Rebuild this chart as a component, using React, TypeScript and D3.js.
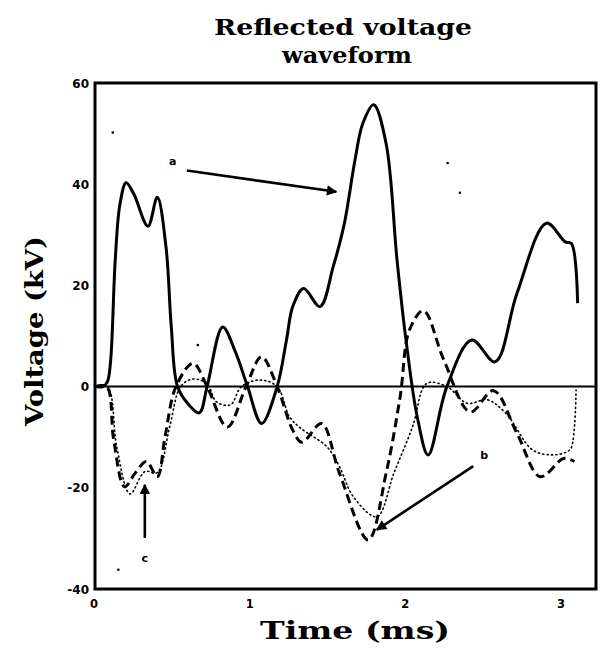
import React from "react";
import * as d3 from "d3";

// time (ms) / voltage (kV)
const solidT = [0, 0.05, 0.08, 0.1, 0.13, 0.16, 0.2, 0.25, 0.34, 0.4, 0.456, 0.49, 0.53, 0.6, 0.67, 0.72, 0.82, 0.9, 0.98, 1.07, 1.17, 1.23, 1.27, 1.34, 1.445, 1.53, 1.6, 1.67, 1.72, 1.79, 1.87, 1.94, 2.0, 2.07, 2.14, 2.26, 2.42, 2.57, 2.71, 2.9, 3.02, 3.06, 3.1];
const solidV = [0, 0, 1, 5, 25, 36, 40.3, 38, 31.7, 37.4, 27.6, 11.8, 0, -3.5, -5.2, 0, 11.8, 7, 0, -7.3, 0, 9.2, 15.8, 19.4, 15.8, 23.7, 32, 44.8, 52, 55.7, 48, 25, 8.6, -6, -13.5, 0, 9.2, 4.9, 18.4, 32.3, 28.6, 28.3, 16.5];

const dashT = [0, 0.075, 0.12, 0.19, 0.26, 0.33, 0.4, 0.45, 0.52, 0.63, 0.72, 0.85, 0.97, 1.07, 1.17, 1.27, 1.33, 1.455, 1.57, 1.755, 1.87, 1.96, 2.02, 2.11, 2.24, 2.41, 2.56, 2.71, 2.86, 3.01, 3.08];
const dashV = [0, 0, -10.5, -19.8, -17, -14.8, -17.8, -9.9, 0, 4.6, 0, -8.0, 0, 5.9, 0, -8.6, -11, -7.3, -17.1, -30.3, -17.1, -2, 11.2, 15.0, 5.3, -5.0, -0.8, -9.2, -17.8, -14.2, -14.8];

const dotT = [0, 0.08, 0.14, 0.225, 0.32, 0.4, 0.48, 0.55, 0.63, 0.72, 0.78, 0.87, 0.94, 1.06, 1.17, 1.25, 1.32, 1.49, 1.57, 1.66, 1.81, 1.92, 2.04, 2.13, 2.26, 2.39, 2.52, 2.64, 2.81, 2.94, 3.03, 3.06, 3.09];
const dotV = [0, 0, -12, -21.2, -16.8, -17, -7.9, 0, 1.5, 0.5, -3, -3.6, 0, 1.3, 0, -6, -8.2, -11.9, -15.8, -21.8, -25.7, -17.1, -7.9, 0.6, 0, -3.3, -2.6, -5.3, -12.5, -13.5, -12.9, -12, -0.7];

const yTicks = [-40, -20, 0, 20, 40, 60];
const xTicks = [0, 1, 2, 3];

// annotations: label, label pos, arrow start, arrow end (data units)
const notes = [
  { label: "a", lt: 0.5, lv: 44.6, t0: 0.59, v0: 42.7, t1: 1.55, v1: 38.5 },
  { label: "b", lt: 2.5, lv: -13.6, t0: 2.43, v0: -15.7, t1: 1.81, v1: -28.3 },
  { label: "c", lt: 0.32, lv: -33.8, t0: 0.32, v0: -29.9, t1: 0.32, v1: -19.4 },
];

// stray specks in the scan
const specks = [
  [0.114, 50.2], [0.66, 8.2], [2.265, 44.2], [2.344, 38.3], [0.15, -36.2],
];

const width = 605;
const height = 654;

export default function App() {
  const x = d3.scaleLinear().domain([0, 3.218]).range([95, 596]);
  const y = d3.scaleLinear().domain([-40, 60]).range([589, 83]);

  const line = d3
    .line<[number, number]>()
    .x(d => x(d[0]))
    .y(d => y(d[1]))
    .curve(d3.curveCatmullRom.alpha(0.5));

  const zip = (t: number[], v: number[]) => t.map((d, i) => [d, v[i]] as [number, number]);

  const tickFont = "'DejaVu Sans', sans-serif";
  const serif = "'DejaVu Serif', serif";

  return (
    <svg
      width={width}
      height={height}
      style={{ position: "absolute", left: 0, top: 0, background: "#fff" }}
    >
      <defs>
        <marker id="head" viewBox="0 0 10 10" refX="9" refY="5" markerWidth="5" markerHeight="4" orient="auto">
          <path d="M0,0 L10,5 L0,10 z" fill="#000" />
        </marker>
      </defs>

      {/* Title */}
      <text x={343} y={35} textAnchor="middle" fontFamily={serif} fontWeight="bold" fontSize={22} textLength={258} lengthAdjust="spacingAndGlyphs">
        Reflected voltage
      </text>
      <text x={347} y={63} textAnchor="middle" fontFamily={serif} fontWeight="bold" fontSize={22} textLength={130} lengthAdjust="spacingAndGlyphs">
        waveform
      </text>

      {/* Frame */}
      <rect x={x(0)} y={y(60)} width={x(3.218) - x(0)} height={y(-40) - y(60)} fill="none" stroke="#000" strokeWidth={3} />

      {/* zero line */}
      <line x1={x(0)} x2={x(3.218)} y1={y(0)} y2={y(0)} stroke="#000" strokeWidth={2} />

      {/* Y ticks */}
      {yTicks.map(t => (
        <text key={t} x={89} y={y(t) + 4.5} textAnchor="end" fontFamily={tickFont} fontWeight="bold" fontSize={12}>
          {t < 0 ? `-${-t}` : t}
        </text>
      ))}

      {/* X ticks */}
      {xTicks.map(t => (
        <text key={t} x={x(t) - 1} y={608} textAnchor="middle" fontFamily={tickFont} fontWeight="bold" fontSize={11.5}>
          {t}
        </text>
      ))}

      {/* axis titles */}
      <text transform="translate(43,331) rotate(-90)" textAnchor="middle" fontFamily={serif} fontWeight="bold" fontSize={24} textLength={190} lengthAdjust="spacingAndGlyphs">
        Voltage (kV)
      </text>
      <text x={355} y={639} textAnchor="middle" fontFamily={serif} fontWeight="bold" fontSize={24} textLength={190} lengthAdjust="spacingAndGlyphs">
        Time (ms)
      </text>

      {/* series */}
      <path d={line(zip(dotT, dotV)) || ""} fill="none" stroke="#000" strokeWidth={1.6} strokeDasharray="1.2,3.2" strokeLinecap="round" />
      <path d={line(zip(dashT, dashV)) || ""} fill="none" stroke="#000" strokeWidth={3} strokeDasharray="9,5" />
      <path d={line(zip(solidT, solidV)) || ""} fill="none" stroke="#000" strokeWidth={3} strokeLinejoin="round" />

      {/* annotations */}
      {notes.map(n => (
        <g key={n.label}>
          <line x1={x(n.t0)} y1={y(n.v0)} x2={x(n.t1)} y2={y(n.v1)} stroke="#000" strokeWidth={2.6} markerEnd="url(#head)" />
          <text x={x(n.lt)} y={y(n.lv) + 4} textAnchor="middle" fontFamily={tickFont} fontWeight="bold" fontSize={11}>
            {n.label}
          </text>
        </g>
      ))}

      {specks.map((s, i) => (
        <circle key={i} cx={x(s[0])} cy={y(s[1])} r={1.3} fill="#000" />
      ))}
    </svg>
  );
}
